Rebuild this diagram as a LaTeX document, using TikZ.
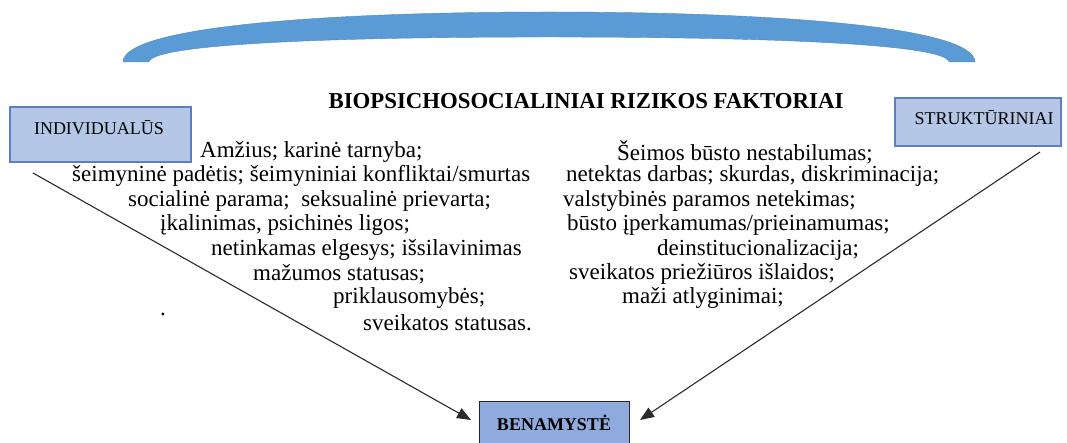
\documentclass[tikz,border=0pt]{standalone}
\usepackage{fontspec}
\setmainfont{Liberation Serif}
\usetikzlibrary{arrows.meta}
\definecolor{arcblue}{HTML}{5B9BD5}
\definecolor{arcedge}{HTML}{4A87C2}
\definecolor{lightbox}{HTML}{B4C7E7}
\definecolor{lightedge}{HTML}{5B7FBF}
\definecolor{benfill}{HTML}{8FAADC}
\definecolor{linegray}{HTML}{2B2B2B}
\tikzset{
  catbox/.style={draw=lightedge, fill=lightbox, line width=1.2pt, inner sep=0pt},
  benbox/.style={draw=black!85, fill=benfill, line width=1pt, inner sep=0pt},
  boxlabel/.style={font=\fontsize{18}{20}\selectfont, inner sep=0pt},
  benlabel/.style={font=\fontsize{18}{20}\selectfont\bfseries, inner sep=0pt},
  item/.style={font=\fontsize{23}{24}\selectfont, inner sep=0pt, anchor=west},
  titletext/.style={font=\fontsize{22.8}{24}\selectfont\bfseries, inner sep=0pt},
  conn/.style={draw=linegray, line width=1.1pt, -{Triangle[length=14pt,width=11pt]}}
}
\begin{document}
\begin{tikzpicture}[x=1pt,y=-1pt]
\useasboundingbox (0,0) rectangle (1067,443);
\clip (0,0) rectangle (1067,443);
% arc
\fill[arcblue, draw=arcedge, line width=0.4pt] (123,62) .. controls (124,26) and (330,12) .. (549,12)
  .. controls (768,12) and (974,26) .. (975,62) -- (949,62)
  .. controls (946,44) and (768,37) .. (549,37)
  .. controls (330,37) and (152,44) .. (149,62) -- cycle;
% title
\node[titletext] (title) at (586,101) {BIOPSICHOSOCIALINIAI RIZIKOS FAKTORIAI};
% boxes
\node[catbox, minimum width=181pt, minimum height=55pt] (ind) at (100.5,134.5) {};
\node[boxlabel] (indl) at (99,128) {INDIVIDUALŪS};
\node[catbox, minimum width=166pt, minimum height=48pt] (str) at (978,122) {};
\node[boxlabel] (strl) at (984,118) {STRUKTŪRINIAI};
\node[benbox, minimum width=150pt, minimum height=48pt, anchor=north] (ben) at (554,401) {};
\node[benlabel] (benl) at (554,423) {BENAMYSTĖ};
% left items
\node[item] (l1) at (200,152) {Amžius; karinė tarnyba;};
\node[item] (l2) at (72,176) {šeimyninė padėtis; šeimyniniai konfliktai/smurtas};
\node[item] (l3) at (128,201) {socialinė parama;\ \ seksualinė prievarta;};
\node[item] (l4) at (160,225) {įkalinimas, psichinės ligos;};
\node[item] (l5) at (211,250) {netinkamas elgesys; išsilavinimas};
\node[item] (l6) at (253,274) {mažumos statusas;};
\node[item] (l7) at (333,298) {priklausomybės;};
\node[item] (l8) at (363,323) {sveikatos statusas.};
\node[item] (dot) at (160,314) {.};
% right items
\node[item] (r1) at (617,152) {Šeimos būsto nestabilumas;};
\node[item] (r2) at (566,176) {netektas darbas; skurdas, diskriminacija;};
\node[item] (r3) at (563,201) {valstybinės paramos netekimas;};
\node[item] (r4) at (567,225) {būsto įperkamumas/prieinamumas;};
\node[item] (r5) at (657,250) {deinstitucionalizacija;};
\node[item] (r6) at (569,274) {sveikatos priežiūros išlaidos;};
\node[item] (r7) at (622,298) {maži atlyginimai;};
% connectors
\coordinate (ls) at (33,173);
\coordinate (rs) at (1040,152);
\coordinate (le) at (471,420);
\coordinate (re) at (640,420);
\draw[conn] (ls) -- (le);
\draw[conn] (rs) -- (re);
\end{tikzpicture}
\end{document}
